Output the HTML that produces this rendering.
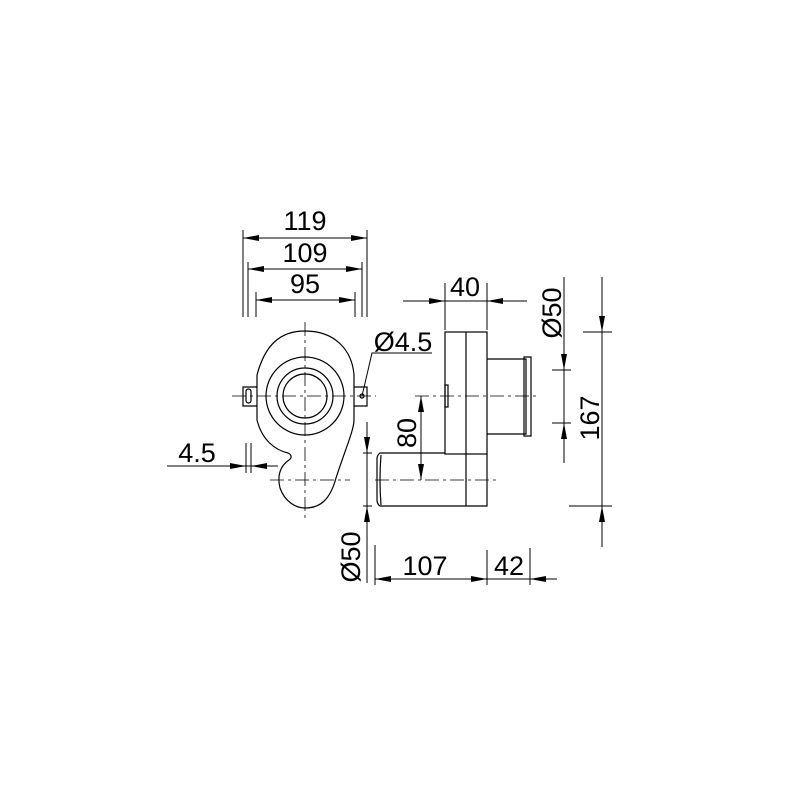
<!DOCTYPE html>
<html><head><meta charset="utf-8"><style>html,body{margin:0;padding:0;background:#fff}svg{display:block}text{font-family:"Liberation Sans",sans-serif;font-size:27px;fill:#000}</style></head>
<body>
<svg width="800" height="800" viewBox="0 0 800 800" xmlns="http://www.w3.org/2000/svg">
<defs>
<marker id="a" viewBox="0 0 16 6" refX="16" refY="3" markerWidth="16" markerHeight="6" markerUnits="userSpaceOnUse" orient="auto-start-reverse"><path d="M0,0 L16,3 L0,6 Z" fill="#000"/></marker>
</defs>
<g fill="none" stroke="#000" stroke-width="1.2">
<path d="M305,331 C280,331 265,345 257,375 L257,420 C262,440 275,450 288,453 C292,455 292,458 289,460 C280,466 277,476 280,488 C285,502 296,508 305,508 C320,508 330,500 336,478 C345,450 354,430 354,420 L354,375 C352,350 335,331 305,331 Z"/>
<circle cx="305" cy="396" r="39"/>
<circle cx="305" cy="396" r="28"/>
<circle cx="305" cy="396" r="22"/>
<path d="M257,387 L243,387 L243,406 L257,406"/>
<rect x="246" y="389" width="5" height="14" rx="2.5"/>
<path d="M354,387 L367,387 L367,406 L354,406"/>
<circle cx="362" cy="396" r="2"/>
<rect x="445" y="332" width="42" height="122"/>
<line x1="466" y1="332" x2="466" y2="506"/>
<path d="M487,454 L487,506 L380,506 Q377,504 377,500 L377,459 Q377,455 380,453 L445,453"/>
<path d="M381,455 Q379,480 381,505"/>
<rect x="445" y="385" width="3" height="22"/>
<path d="M487,359 L526,359 L526,434 L487,434"/>
<path d="M524,357 L531,357 L531,436 L524,436 Z"/>
</g>
<g stroke="#000" stroke-width="0.8" stroke-dasharray="14,4,3,4" fill="none">
<line x1="305" y1="322" x2="305" y2="518"/>
<line x1="232" y1="396" x2="376" y2="396"/>
<line x1="270" y1="480" x2="350" y2="480"/>
<line x1="415" y1="396" x2="540" y2="396"/>
<line x1="375" y1="480" x2="498" y2="480"/>
</g>
<g stroke="#000" stroke-width="1" fill="none">
<line x1="243" y1="230" x2="243" y2="317"/><line x1="367" y1="230" x2="367" y2="317"/>
<line x1="248" y1="262" x2="248" y2="317"/><line x1="362" y1="262" x2="362" y2="317"/>
<line x1="256" y1="292" x2="256" y2="317"/><line x1="355" y1="292" x2="355" y2="317"/>
<line x1="243" y1="238" x2="367" y2="238" marker-start="url(#a)" marker-end="url(#a)"/>
<line x1="248" y1="269" x2="362" y2="269" marker-start="url(#a)" marker-end="url(#a)"/>
<line x1="256" y1="300" x2="355" y2="300" marker-start="url(#a)" marker-end="url(#a)"/>
<!-- 4.5 -->
<line x1="246" y1="443" x2="246" y2="473"/><line x1="251" y1="443" x2="251" y2="473"/>
<line x1="167" y1="466" x2="278" y2="466"/>
<line x1="226" y1="466" x2="246" y2="466" marker-end="url(#a)"/>
<line x1="271" y1="466" x2="251" y2="466" marker-end="url(#a)"/>
<polyline points="362,396 372,353 432,353"/>
<!-- 40 -->
<line x1="445" y1="283" x2="445" y2="330"/><line x1="487" y1="283" x2="487" y2="330"/>
<line x1="403" y1="301" x2="527" y2="301"/>
<line x1="425" y1="301" x2="445" y2="301" marker-end="url(#a)"/>
<line x1="507" y1="301" x2="487" y2="301" marker-end="url(#a)"/>
<!-- Ø50 right -->
<line x1="552" y1="370" x2="571" y2="370"/><line x1="552" y1="423" x2="571" y2="423"/>
<line x1="564" y1="277" x2="564" y2="463"/>
<line x1="564" y1="350" x2="564" y2="370" marker-end="url(#a)"/>
<line x1="564" y1="443" x2="564" y2="423" marker-end="url(#a)"/>
<!-- 167 -->
<line x1="583" y1="332" x2="612" y2="332"/><line x1="569" y1="506" x2="612" y2="506"/>
<line x1="602" y1="277" x2="602" y2="547"/>
<line x1="602" y1="312" x2="602" y2="332" marker-end="url(#a)"/>
<line x1="602" y1="526" x2="602" y2="506" marker-end="url(#a)"/>
<!-- 80 -->
<line x1="421" y1="396" x2="421" y2="480" marker-start="url(#a)" marker-end="url(#a)"/>
<!-- Ø50 left -->
<line x1="363" y1="453" x2="372" y2="453"/><line x1="363" y1="506" x2="372" y2="506"/>
<line x1="367" y1="422" x2="367" y2="583"/>
<line x1="367" y1="433" x2="367" y2="453" marker-end="url(#a)"/>
<line x1="367" y1="526" x2="367" y2="506" marker-end="url(#a)"/>
<!-- 107 / 42 -->
<line x1="375" y1="545" x2="375" y2="585"/><line x1="487" y1="550" x2="487" y2="585"/><line x1="530" y1="548" x2="530" y2="585"/>
<line x1="375" y1="579" x2="557" y2="579"/>
<line x1="375" y1="579" x2="487" y2="579" marker-start="url(#a)" marker-end="url(#a)"/>
<line x1="550" y1="579" x2="530" y2="579" marker-end="url(#a)"/>
</g>
<g text-anchor="middle">
<text x="305" y="230">119</text>
<text x="305" y="262">109</text>
<text x="305" y="293">95</text>
<text x="197" y="462">4.5</text>
<text x="403" y="351">Ø4.5</text>
<text x="465" y="296">40</text>
<text x="425" y="575">107</text>
<text x="509" y="575">42</text>
<text transform="translate(561,313) rotate(-90)">Ø50</text>
<text transform="translate(599,418) rotate(-90)">167</text>
<text transform="translate(416,433) rotate(-90)">80</text>
<text transform="translate(360,557) rotate(-90)">Ø50</text>
</g>
</svg>
</body></html>
